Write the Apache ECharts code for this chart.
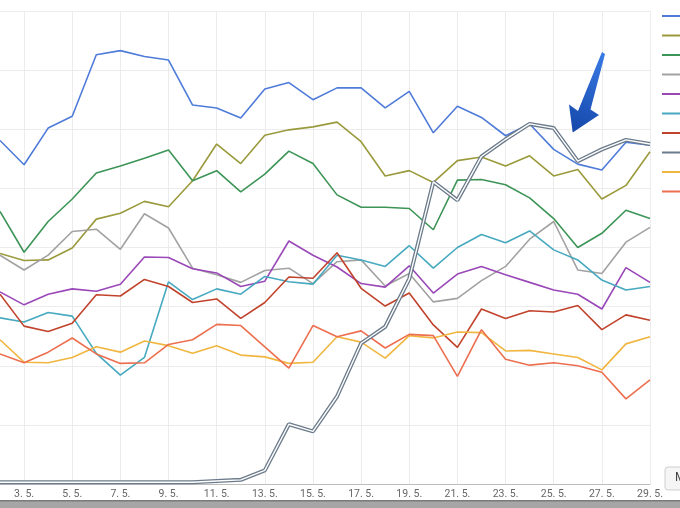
<!DOCTYPE html>
<html>
<head>
<meta charset="utf-8">
<script src="https://cdn.jsdelivr.net/npm/echarts@6/dist/echarts.min.js"></script>
<style>
  html, body { margin: 0; padding: 0; background: #fff; }
  #chart { width: 680px; height: 508px; }
</style>
</head>
<body>
<div id="chart"></div>
<script>
// dny 2. 5. - 29. 5.
const days = ['2. 5.', '3. 5.', '4. 5.', '5. 5.', '6. 5.', '7. 5.', '8. 5.', '9. 5.', '10. 5.', '11. 5.',
  '12. 5.', '13. 5.', '14. 5.', '15. 5.', '16. 5.', '17. 5.', '18. 5.', '19. 5.', '20. 5.', '21. 5.',
  '22. 5.', '23. 5.', '24. 5.', '25. 5.', '26. 5.', '27. 5.', '28. 5.', '29. 5.']

const s1 = [58.1, 54.0, 60.2, 62.2, 72.6, 73.3, 72.3, 71.7, 64.1, 63.6, 61.9, 66.8, 67.9, 65.0, 67.0, 67.0, 63.6, 66.4, 59.4, 63.9, 62.0, 58.9, 60.9, 56.6, 54.1, 53.1, 57.8, 57.3]
const s2 = [39.0, 37.8, 37.9, 39.9, 44.8, 45.8, 47.8, 46.9, 51.3, 57.5, 54.2, 59.0, 59.9, 60.4, 61.2, 57.9, 52.1, 53.0, 51.0, 54.7, 55.3, 53.8, 55.5, 52.1, 53.2, 48.2, 50.5, 56.2]
const s3 = [46.1, 39.2, 44.4, 48.2, 52.6, 53.8, 55.1, 56.5, 51.3, 53.0, 49.4, 52.4, 56.3, 54.2, 48.9, 46.8, 46.8, 46.6, 43.0, 51.4, 51.5, 50.6, 48.4, 44.9, 40.0, 42.4, 46.3, 44.9]
const s4 = [38.7, 36.2, 38.7, 42.7, 43.1, 39.7, 45.7, 43.3, 36.5, 35.4, 34.1, 36.1, 36.5, 33.9, 37.6, 37.9, 33.5, 35.6, 30.8, 31.4, 34.4, 36.8, 41.4, 44.4, 36.2, 35.6, 40.9, 43.4]
const s5 = [32.5, 30.3, 32.1, 33.0, 32.6, 33.8, 38.4, 38.3, 36.4, 35.7, 33.4, 34.3, 41.1, 38.7, 36.7, 33.9, 33.3, 36.9, 32.3, 35.5, 36.8, 35.4, 34.1, 32.8, 32.1, 29.6, 36.6, 34.1]
const s6 = [28.1, 27.4, 29.0, 28.4, 22.1, 18.4, 21.4, 34.2, 31.2, 33.0, 32.1, 35.1, 34.2, 33.8, 38.7, 37.9, 36.8, 40.3, 36.5, 40.0, 42.2, 40.8, 42.8, 39.6, 37.9, 34.5, 32.8, 33.4]
const s7 = [32.1, 26.7, 25.8, 27.2, 32.0, 31.8, 34.6, 33.4, 30.7, 31.3, 28.0, 30.7, 35.0, 34.8, 39.1, 33.1, 30.1, 32.3, 26.9, 23.1, 29.6, 28.0, 29.3, 29.1, 30.2, 26.1, 28.6, 27.7]
const s8 = [0.3, 0.3, 0.3, 0.3, 0.3, 0.3, 0.3, 0.3, 0.3, 0.5, 0.7, 2.3, 10.1, 8.9, 14.8, 23.8, 26.6, 34.7, 51.1, 48.0, 55.4, 58.3, 60.9, 60.2, 54.6, 56.6, 58.2, 57.5]
const s9 = [24.4, 20.6, 20.5, 21.4, 23.2, 22.3, 24.2, 23.4, 22.1, 23.4, 21.8, 21.5, 20.4, 20.6, 24.9, 24.0, 21.3, 25.1, 24.7, 25.7, 25.6, 22.5, 22.6, 22.0, 21.4, 19.3, 23.7, 24.9]
const s10 = [22.0, 20.5, 22.3, 24.7, 22.0, 20.4, 20.5, 23.6, 24.4, 27.0, 26.8, 23.2, 19.6, 26.8, 24.9, 25.9, 23.0, 25.3, 25.1, 18.2, 26.1, 21.1, 20.1, 20.5, 20.0, 18.9, 14.4, 17.6]

const names = ['Řada 1', 'Řada 2', 'Řada 3', 'Řada 4', 'Řada 5', 'Řada 6', 'Řada 7', 'Řada 8', 'Řada 9', 'Řada 10']
const colors = ['#4f7bd9', '#9a9a3c', '#3d9457', '#a2a2a2', '#9a48b8', '#46a9bf', '#c1432c', '#6c7b8b', '#f0b640', '#ec6f4f']
const values = [s1, s2, s3, s4, s5, s6, s7, s8, s9, s10]

const chart = echarts.init(document.getElementById('chart'), null, { renderer: 'canvas' })

const oddDay = (i) => i % 2 === 1

const series = values.map((data, i) => ({
  name: names[i],
  type: 'line',
  data,
  showSymbol: false,
  symbol: 'none',
  color: colors[i],
  lineStyle: { width: i === 7 ? 4 : 1.6, color: colors[i] },
  z: i === 7 ? 5 : 2,
  animation: false,
}))
// bílá vnitřní linka pro "dvojitou" řadu
series.push({
  name: 'inner',
  type: 'line',
  data: s8,
  symbol: 'none',
  lineStyle: { width: 1.4, color: '#ffffff' },
  z: 6,
  silent: true,
  animation: false,
})

chart.setOption({
  animation: false,
  grid: { left: 0, right: 30, top: 11, bottom: 24 },
  legend: {
    data: names,
    orient: 'vertical',
    left: 662,
    top: 15,
    padding: 0,
    icon: 'rect',
    itemWidth: 20,
    itemHeight: 2,
    itemGap: 17.5,
    formatter: () => '',
    selectedMode: false,
  },
  xAxis: {
    type: 'category',
    data: days,
    boundaryGap: false,
    axisLine: { lineStyle: { color: '#bdbdbd', width: 1 } },
    axisTick: { show: false },
    axisLabel: {
      interval: (i) => oddDay(i),
      color: '#666',
      fontSize: 10.5,
      fontFamily: 'Roboto',
      margin: 5,
    },
    splitLine: { show: true, interval: (i) => oddDay(i), lineStyle: { color: '#ececec' } },
  },
  yAxis: {
    type: 'value',
    min: 0,
    max: 80,
    interval: 10,
    axisLabel: { show: false },
    axisLine: { show: false },
    axisTick: { show: false },
    splitLine: { lineStyle: { color: '#ececec' } },
  },
  series,
  graphic: [
    // šipka
    {
      type: 'polygon',
      shape: {
        points: [[602, 52], [605, 54], [590.5, 109.5], [599, 115], [572.7, 132.5], [569, 104.5], [578, 111]],
      },
      style: {
        fill: new echarts.graphic.LinearGradient(1, 0, 0, 1, [
          { offset: 0, color: '#3a7be6' },
          { offset: 1, color: '#1446a8' },
        ]),
      },
      z: 10,
    },
    // tlačítko vpravo dole
    {
      type: 'rect',
      shape: { x: 665, y: 467, width: 30, height: 23, r: 3 },
      style: { fill: '#f5f5f5', stroke: '#cfcfcf', lineWidth: 1 },
      z: 10,
    },
    {
      type: 'text',
      style: { x: 675, y: 472, text: 'M', fill: '#444', font: '12px Roboto' },
      z: 11,
    },
    // spodní lišta
    {
      type: 'rect',
      shape: { x: 0, y: 500, width: 680, height: 8 },
      style: { fill: '#a6a6a6' },
      z: 10,
    },
    {
      type: 'rect',
      shape: { x: 0, y: 500, width: 680, height: 1.5 },
      style: { fill: '#7a7a7a' },
      z: 11,
    },
  ],
})
</script>
</body>
</html>
